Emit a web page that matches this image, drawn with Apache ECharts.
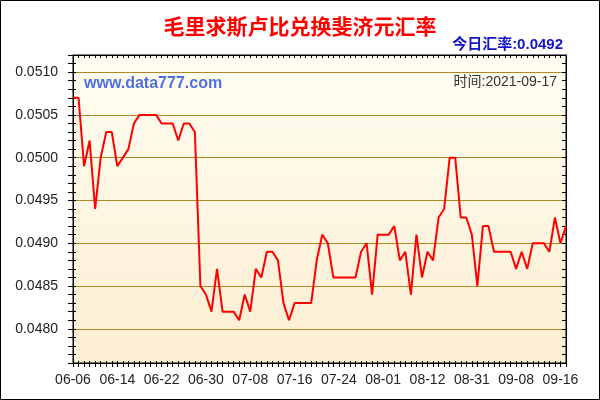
<!DOCTYPE html>
<html>
<head>
<meta charset="utf-8">
<script src="https://cdn.jsdelivr.net/npm/echarts@6/dist/echarts.min.js"></script>
<style>
html,body{margin:0;padding:0;background:#fff;}
#chart{width:600px;height:400px;}
</style>
</head>
<body>
<div id="chart"></div>
<script>
var titleText = '毛里求斯卢比兑换斐济元汇率';
var todayText = '今日汇率:0.0492';
var siteText = 'www.data777.com';
var timeText = '时间:2021-09-17';

var dates = [
'06-06','06-07','06-08','06-09','06-10','06-11','06-12','06-13','06-14','06-15',
'06-16','06-17','06-18','06-19','06-20','06-21','06-22','06-23','06-24','06-25',
'06-26','06-27','06-28','06-29','06-30','07-01','07-02','07-03','07-04','07-05',
'07-06','07-07','07-08','07-09','07-10','07-11','07-12','07-13','07-14','07-15',
'07-16','07-17','07-18','07-19','07-20','07-21','07-22','07-23','07-24','07-25',
'07-26','07-27','07-28','07-29','07-30','07-31','08-01','08-02','08-03','08-04',
'08-05','08-06','08-09','08-10','08-12','08-13','08-16','08-17','08-18','08-19',
'08-20','08-30','08-31','09-01','09-02','09-03','09-04','09-05','09-06','09-07',
'09-08','09-09','09-10','09-11','09-12','09-13','09-14','09-15','09-16','09-17'
];

var rates = [
0.0507,0.0507,0.0499,0.0502,0.0494,0.0500,0.0503,0.0503,0.0499,0.0500,
0.0501,0.0504,0.0505,0.0505,0.0505,0.0505,0.0504,0.0504,0.0504,0.0502,
0.0504,0.0504,0.0503,0.0485,0.0484,0.0482,0.0487,0.0482,0.0482,0.0482,
0.0481,0.0484,0.0482,0.0487,0.0486,0.0489,0.0489,0.0488,0.0483,0.0481,
0.0483,0.0483,0.0483,0.0483,0.0488,0.0491,0.0490,0.0486,0.0486,0.0486,
0.0486,0.0486,0.0489,0.0490,0.0484,0.0491,0.0491,0.0491,0.0492,0.0488,
0.0489,0.0484,0.0491,0.0486,0.0489,0.0488,0.0493,0.0494,0.0500,0.0500,
0.0493,0.0493,0.0491,0.0485,0.0492,0.0492,0.0489,0.0489,0.0489,0.0489,
0.0487,0.0489,0.0487,0.0490,0.0490,0.0490,0.0489,0.0493,0.0490,0.0492
];

var yTickLabels = [0.0480, 0.0485, 0.0490, 0.0495, 0.0500, 0.0505, 0.0510];
var yMin = 0.0476, yMax = 0.0512, yStep = 0.0001;

var chart = echarts.init(document.getElementById('chart'), null, {renderer: 'canvas'});

var latin = '"Liberation Sans", Arial, "Noto Sans CJK SC", sans-serif';
var cjk = '"Liberation Sans", "Noto Sans CJK SC", sans-serif';

function isLabelled(v) {
  var n = Math.round(v * 10000);
  for (var i = 0; i < yTickLabels.length; i++) {
    if (Math.round(yTickLabels[i] * 10000) === n) return true;
  }
  return false;
}
function yLabel(v) { return isLabelled(v) ? v.toFixed(4) : ''; }

var baseX = {
  type: 'category', data: dates, boundaryGap: false, splitLine: {show: false}
};
var baseY = {
  type: 'value', min: yMin, max: yMax, interval: yStep, splitLine: {show: false}
};

var gold = '#AF8723', clear = 'rgba(0,0,0,0)';

var option = {
  animation: false,
  backgroundColor: '#ffffff',
  title: [
    {text: titleText, left: 'center', top: 16, padding: 0,
     textStyle: {color: '#FF0000', fontSize: 21, fontWeight: 'bold', fontFamily: '"Noto Sans CJK SC", sans-serif'}},
    {text: todayText, right: 37, top: 37, padding: 0,
     textStyle: {color: '#1414C8', fontSize: 15, fontWeight: 'bold', fontFamily: cjk}},
    {text: siteText, left: 84, top: 76, padding: 0,
     textStyle: {color: '#4F6FDF', fontSize: 16, fontWeight: 'bold', fontFamily: latin}},
    {text: timeText, right: 43, top: 75, padding: 0,
     textStyle: {color: '#333333', fontSize: 14, fontWeight: 'normal', fontFamily: cjk}}
  ],
  graphic: [
    {type: 'rect', silent: true, z: 100,
     shape: {x: 0.5, y: 0.5, width: 599, height: 399},
     style: {fill: 'none', stroke: '#000000', lineWidth: 1}}
  ],
  grid: {
    left: 73, right: 34, top: 55, bottom: 37, show: true,
    borderColor: '#000000', borderWidth: 1,
    backgroundColor: new echarts.graphic.LinearGradient(0, 0, 0, 1, [
      {offset: 0, color: '#FFFEF2'},
      {offset: 1, color: '#FCEED2'}
    ])
  },
  xAxis: [
    Object.assign({}, baseX, {
      position: 'bottom',
      axisLine: {show: true, onZero: false, lineStyle: {color: '#000', width: 1}},
      axisTick: {show: true, interval: 0, length: 4, inside: false, lineStyle: {color: '#000'}},
      axisLabel: {show: true, interval: 7, margin: 10, color: '#222', fontSize: 14, fontFamily: latin}
    }),
    Object.assign({}, baseX, {
      position: 'bottom',
      axisLine: {show: false, onZero: false},
      axisTick: {show: true, interval: 0, length: 2, inside: true, lineStyle: {color: '#000'}},
      axisLabel: {show: false}
    }),
    Object.assign({}, baseX, {
      position: 'top',
      axisLine: {show: true, onZero: false, lineStyle: {color: '#000', width: 1}},
      axisTick: {show: true, interval: 0, length: 3, inside: true, lineStyle: {color: '#000'}},
      axisLabel: {show: false}
    })
  ],
  yAxis: [
    Object.assign({}, baseY, {
      position: 'left', z: 0,
      axisLine: {show: true, onZero: false, lineStyle: {color: '#000', width: 1}},
      axisTick: {show: true, length: 5, inside: false, lineStyle: {color: '#000'}},
      axisLabel: {show: true, margin: 15, color: '#222', fontSize: 14, fontFamily: latin, formatter: yLabel, showMinLabel: true, showMaxLabel: true},
      splitLine: {show: true, lineStyle: {width: 1, type: 'solid', color: [clear, clear, clear, clear, gold]}}
    }),
    Object.assign({}, baseY, {
      position: 'left',
      axisLine: {show: false, onZero: false},
      axisTick: {show: true, length: 3, inside: true, lineStyle: {color: '#000'}},
      axisLabel: {show: false}
    }),
    Object.assign({}, baseY, {
      position: 'right',
      axisLine: {show: true, onZero: false, lineStyle: {color: '#000', width: 1}},
      axisTick: {show: true, length: 4, inside: true, lineStyle: {color: '#000'}},
      axisLabel: {show: false}
    })
  ],
  series: [
    {
      name: 'rate', type: 'line', data: rates, z: 5,
      xAxisIndex: 0, yAxisIndex: 0,
      showSymbol: false, symbol: 'none', smooth: false,
      lineStyle: {color: '#FF0000', width: 2},
      itemStyle: {color: '#FF0000'}
    }
  ]
};

chart.setOption(option);
</script>
</body>
</html>
